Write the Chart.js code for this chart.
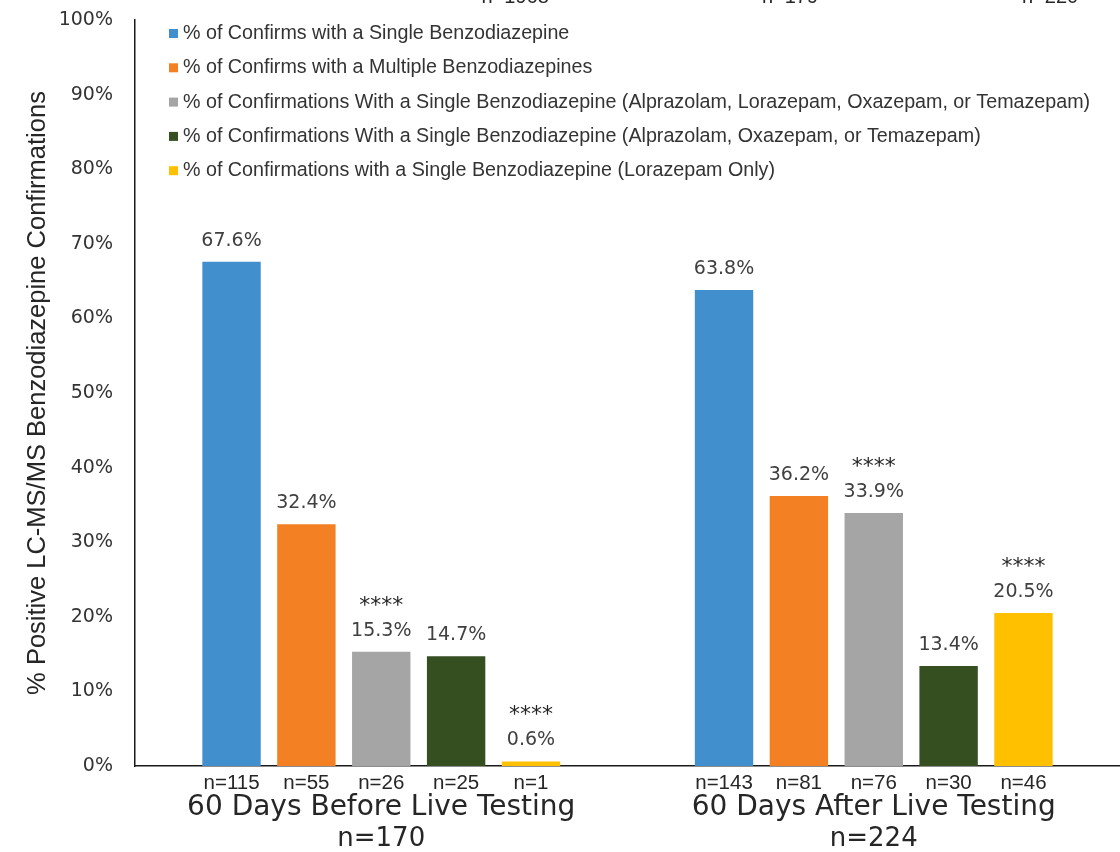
<!DOCTYPE html>
<html>
<head>
<meta charset="utf-8">
<script src="https://cdn.jsdelivr.net/npm/chart.js@4.4.1/dist/chart.umd.min.js"></script>
<style>
  html, body { margin: 0; padding: 0; background: #ffffff; }
  #wrap { width: 1120px; height: 852px; }
</style>
</head>
<body>
<div id="wrap"><canvas id="chart" width="1120" height="852"></canvas></div>
<script>
// Study periods (x categories) and their totals
const periods = ['60 Days Before Live Testing', '60 Days After Live Testing'];
const periodTotals = ['n=170', 'n=224'];

// Series names
const seriesNames = [
  '% of Confirms with a Single Benzodiazepine',
  '% of Confirms with a Multiple Benzodiazepines',
  '% of Confirmations With a Single Benzodiazepine (Alprazolam, Lorazepam, Oxazepam, or Temazepam)',
  '% of Confirmations With a Single Benzodiazepine (Alprazolam, Oxazepam, or Temazepam)',
  '% of Confirmations with a Single Benzodiazepine (Lorazepam Only)'
];

// Percent values per series (before, after)
const singleBenzo   = [67.6, 63.8];
const multipleBenzo = [32.4, 36.2];
const singleALOT    = [15.3, 33.9];
const singleAOT     = [14.7, 13.4];
const lorazepamOnly = [0.6, 20.5];

// Sample counts per series (before, after)
const singleBenzoN   = [115, 143];
const multipleBenzoN = [55, 81];
const singleALOTN    = [26, 76];
const singleAOTN     = [25, 30];
const lorazepamOnlyN = [1, 46];

// Significance markers per series (before, after)
const singleBenzoSig   = ['', ''];
const multipleBenzoSig = ['', ''];
const singleALOTSig    = ['****', '****'];
const singleAOTSig     = ['', ''];
const lorazepamOnlySig = ['****', '****'];

// Counts printed along the top edge
const topCounts = ['n=1968', 'n=179', 'n=220'];

// Y axis ticks
const yTickValues = [0, 10, 20, 30, 40, 50, 60, 70, 80, 90, 100];

const seriesValues = [singleBenzo, multipleBenzo, singleALOT, singleAOT, lorazepamOnly];
const seriesCounts = [singleBenzoN, multipleBenzoN, singleALOTN, singleAOTN, lorazepamOnlyN];
const seriesSig = [singleBenzoSig, multipleBenzoSig, singleALOTSig, singleAOTSig, lorazepamOnlySig];
const seriesColors = ['#428fce', '#f48024', '#a5a5a5', '#354f20', '#ffc000'];

const WIDE = '"DejaVu Sans", Verdana, sans-serif';
const NARROW = '"Liberation Sans", Arial, sans-serif';

const annotate = {
  id: 'annotate',
  afterDatasetsDraw(chart) {
    const ctx = chart.ctx;
    const xs = chart.scales.x;
    const area = chart.chartArea;
    ctx.save();
    ctx.textAlign = 'center';
    ctx.textBaseline = 'middle';
    chart.data.datasets.forEach((ds, i) => {
      const meta = chart.getDatasetMeta(i);
      meta.data.forEach((bar, j) => {
        // value label
        ctx.font = '19px ' + WIDE;
        ctx.fillStyle = '#404040';
        ctx.fillText(ds.data[j].toFixed(1) + '%', bar.x, bar.y - 21);
        // significance stars
        const sig = seriesSig[i][j];
        if (sig) {
          ctx.font = '22px ' + WIDE;
          ctx.fillStyle = '#262626';
          ctx.fillText(sig, bar.x, bar.y - 46);
        }
        // count under each bar
        ctx.font = '20.5px ' + NARROW;
        ctx.fillStyle = '#262626';
        ctx.fillText('n=' + seriesCounts[i][j], bar.x, area.bottom + 17);
      });
    });
    // period names and totals
    periods.forEach((p, j) => {
      const x = xs.getPixelForValue(j);
      ctx.fillStyle = '#262626';
      ctx.font = '28px ' + WIDE;
      ctx.fillText(p, x, area.bottom + 42);
      ctx.font = '26px ' + WIDE;
      ctx.fillText(periodTotals[j], x, area.bottom + 73);
    });
    // legend
    ctx.textAlign = 'left';
    ctx.font = '19.7px ' + NARROW;
    seriesNames.forEach((name, i) => {
      const y = 33.5 + i * 34.3;
      ctx.fillStyle = seriesColors[i];
      ctx.fillRect(169, y - 4.5, 9, 9);
      ctx.fillStyle = '#333333';
      ctx.fillText(name, 183, y);
    });
    // counts along the top edge
    ctx.textAlign = 'center';
    ctx.textBaseline = 'alphabetic';
    ctx.font = '20px ' + NARROW;
    ctx.fillStyle = '#262626';
    const topX = [0.386, 0.665, 0.929];
    topCounts.forEach((t, k) => {
      ctx.fillText(t, area.left + topX[k] * (area.right - area.left), 3);
    });
    ctx.restore();
  }
};

new Chart(document.getElementById('chart'), {
  type: 'bar',
  data: {
    labels: periods,
    datasets: seriesNames.map((name, i) => ({
      label: name,
      data: seriesValues[i],
      backgroundColor: seriesColors[i],
      borderWidth: 0,
      categoryPercentage: 0.76,
      barPercentage: 0.78
    }))
  },
  options: {
    responsive: false,
    animation: false,
    devicePixelRatio: 1,
    layout: { padding: { top: 20, right: 0, left: 0, bottom: 0 } },
    plugins: {
      legend: { display: false },
      tooltip: { enabled: false }
    },
    scales: {
      x: {
        grid: { display: false },
        border: { display: true, color: '#1a1a1a', width: 1.5 },
        ticks: { display: false },
        afterFit(s) { s.height = 86; s.paddingLeft = 0; s.paddingRight = 0; }
      },
      y: {
        min: 0,
        max: 100,
        afterBuildTicks(s) { s.ticks = yTickValues.map(v => ({ value: v })); },
        grid: { display: false },
        border: { display: true, color: '#1a1a1a', width: 1.5 },
        ticks: {
          padding: 14,
          color: '#333333',
          font: { family: WIDE, size: 19 },
          callback: v => v + '%'
        },
        title: {
          display: true,
          text: '% Positive LC-MS/MS Benzodiazepine Confirmations',
          color: '#262626',
          font: { family: NARROW, size: 25.5 },
          padding: { top: 23, bottom: 0 }
        },
        afterFit(s) { s.width = 135; s.paddingTop = 0; s.paddingBottom = 0; }
      }
    }
  },
  plugins: [annotate]
});
</script>
</body>
</html>
